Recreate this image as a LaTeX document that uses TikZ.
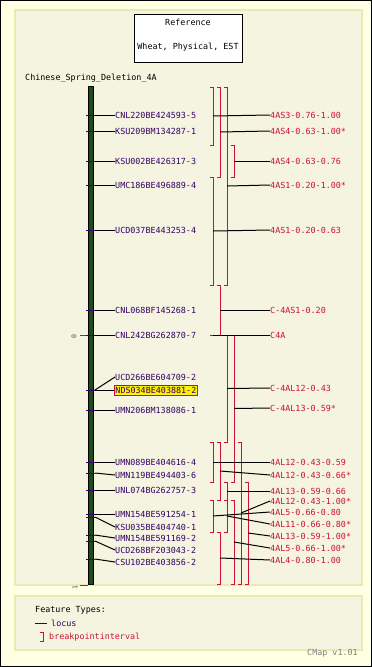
\documentclass[tikz,border=0pt]{standalone}
\usepackage{fontspec}
\newfontfamily\pix{DejaVu Sans Mono}
\definecolor{outerbg}{HTML}{FFFFE4}
\definecolor{innerbg}{HTML}{F5F4E0}
\definecolor{panelb}{HTML}{EAEAB4}
\definecolor{locc}{HTML}{330066}
\definecolor{binc}{HTML}{CC1133}
\definecolor{chrom}{HTML}{1E4A1E}
\newcommand\bkt[4]{%
  \draw[brk] (#1-3,#2) -- (#1,#2) -- (#1,#3) -- (#1-3,#3);
  \coordinate (#4) at (#1,{(#2+#3)/2});}
\newcommand\mkr[4]{%
  \draw[loct] (86,#1) -- (95,#1);
  \coordinate (#3-t) at (95,#1);
  \node[lloc] (#3) at (115,#2) {#4};
  \draw[con] (#3-t) -- (#3.west);}
\newcommand\rlab[4]{%
  \node[rbin] (#3) at (270,#2) {#4};
  \draw[con] (#1) -- (#3.west);}
\begin{document}
\begin{tikzpicture}[x=1pt,y=-1pt,
  lab/.style={font=\pix\fontsize{8.4}{9}\selectfont, inner sep=0pt, text height=6pt, text depth=0pt, anchor=west},
  lloc/.style={lab, text=locc},
  rbin/.style={lab, text=binc},
  con/.style={black, line width=1pt},
  loct/.style={locc, line width=1pt},
  brk/.style={binc, line width=0.8pt},
  panel/.style={fill=innerbg, draw=panelb, line width=1.2pt}]
\useasboundingbox (0,0) rectangle (372,667);
\fill[outerbg] (0,0) rectangle (372,667);
\draw[black, line width=1.2pt] (0.6,0.6) rectangle (371.4,666.4);
\draw[panel] (15,10) rectangle (362,585);
\draw[panel] (15,596) rectangle (362,650);
% reference box
\node[draw=black, fill=white, line width=1pt, minimum width=108pt, minimum height=48pt, inner sep=0pt] (refbox) at (188,38) {};
\node[lab, anchor=center, text=black] (reft) at (188,22) {Reference};
\node[lab, anchor=center, text=black] (refs) at (188,46) {Wheat, Physical, EST};
\node[lab, text=black] (title) at (25,77) {Chinese\_Spring\_Deletion\_4A};
% chromosome
\draw[fill=chrom, draw=black, line width=0.5pt] (88,86) rectangle (93,584);
% scale marks
\draw[black!70, line width=0.7pt] (80,335) -- (86,335);
\node[font=\pix\fontsize{6.5}{6.5}\selectfont, rotate=90, inner sep=0pt, text=black!70] (s0) at (74,337) {0};
\draw[black!70, line width=0.7pt] (80,585) -- (88,585);
\node[font=\pix\fontsize{6.5}{6.5}\selectfont, rotate=90, inner sep=0pt, text=black!70] (s1) at (75,588) {1};
% markers
\mkr{115}{115}{m1}{CNL220BE424593-5}
\mkr{131}{131}{m2}{KSU209BM134287-1}
\mkr{161}{161}{m3}{KSU002BE426317-3}
\mkr{185}{185}{m4}{UMC186BE496889-4}
\mkr{230}{230}{m5}{UCD037BE443253-4}
\mkr{310}{310}{m6}{CNL068BF145268-1}
\mkr{335}{335}{m7}{CNL242BG262870-7}
\mkr{390}{377}{m8}{UCD266BE604709-2}
\draw[loct] (86,390) -- (95,390);
\coordinate (m9-t) at (95,390);
\node[lab, text=locc, fill=yellow, draw=binc, line width=0.9pt, inner xsep=1pt, inner ysep=2pt] (m9) at (114,390) {NDS034BE403881-2};
\draw[con] (m9-t) -- (m9.west);
\mkr{410}{410}{m10}{UMN206BM138086-1}
\mkr{462}{462}{m11}{UMN089BE404616-4}
\mkr{473}{475}{m12}{UMN119BE494403-6}
\mkr{490}{490}{m13}{UNL074BG262757-3}
\mkr{514}{514}{m14}{UMN154BE591254-1}
\mkr{517}{527}{m15}{KSU035BE404740-1}
\mkr{535}{538}{m16}{UMN154BE591169-2}
\mkr{541}{550}{m17}{UCD268BF203043-2}
\mkr{559}{562}{m18}{CSU102BE403856-2}
% brackets
\bkt{213}{87}{145}{b1}
\bkt{220}{87}{177}{b2}
\bkt{227}{87}{285}{b3}
\bkt{234}{145}{177}{b4}
\bkt{213}{177}{285}{b5}
\bkt{220}{285}{335}{b6}
\draw[brk] (210,335) -- (213,335);
\coordinate (b7) at (213,335);
\bkt{227}{335}{442}{b8}
\bkt{234}{335}{482}{b9}
\bkt{213}{442}{482}{b10}
\bkt{220}{442}{500}{b11}
\bkt{227}{482}{500}{b12}
\bkt{241}{442}{584}{b13}
\bkt{213}{500}{532}{b14}
\bkt{227}{500}{532}{b15}
\bkt{248}{482}{584}{b16}
\bkt{234}{500}{584}{b17}
\bkt{220}{532}{584}{b18}
% right labels
\rlab{b1}{115}{r1}{4AS3-0.76-1.00}
\rlab{b2}{131}{r2}{4AS4-0.63-1.00*}
\rlab{b4}{161}{r4}{4AS4-0.63-0.76}
\rlab{b3}{185}{r3}{4AS1-0.20-1.00*}
\rlab{b5}{230}{r5}{4AS1-0.20-0.63}
\rlab{b6}{310}{r6}{C-4AS1-0.20}
\rlab{b7}{335}{r7}{C4A}
\rlab{b8}{388}{r8}{C-4AL12-0.43}
\rlab{b9}{408}{r9}{C-4AL13-0.59*}
\rlab{b10}{462}{r10}{4AL12-0.43-0.59}
\rlab{b11}{475}{r11}{4AL12-0.43-0.66*}
\rlab{b12}{491}{r12}{4AL13-0.59-0.66}
\rlab{b13}{501}{r13}{4AL12-0.43-1.00*}
\rlab{b14}{512}{r14}{4AL5-0.66-0.80}
\rlab{b15}{524}{r15}{4AL11-0.66-0.80*}
\rlab{b16}{536}{r16}{4AL13-0.59-1.00*}
\rlab{b17}{548}{r17}{4AL5-0.66-1.00*}
\rlab{b18}{560}{r18}{4AL4-0.80-1.00}
% legend
\node[lab, text=black] (ft) at (35,609) {Feature Types:};
\coordinate (lg1a) at (35,623);
\coordinate (lg1b) at (47,623);
\draw[loct] (lg1a) -- (lg1b);
\node[lab, text=locc] (lg1) at (51,623) {locus};
\draw[brk] (40,632) -- (43,632) -- (43,641) -- (40,641);
\node[lab, text=binc] (lg2) at (49,636) {breakpointinterval};
\node[lab, text=black!50] (ver) at (307,652) {CMap v1.01};
\end{tikzpicture}
\end{document}
